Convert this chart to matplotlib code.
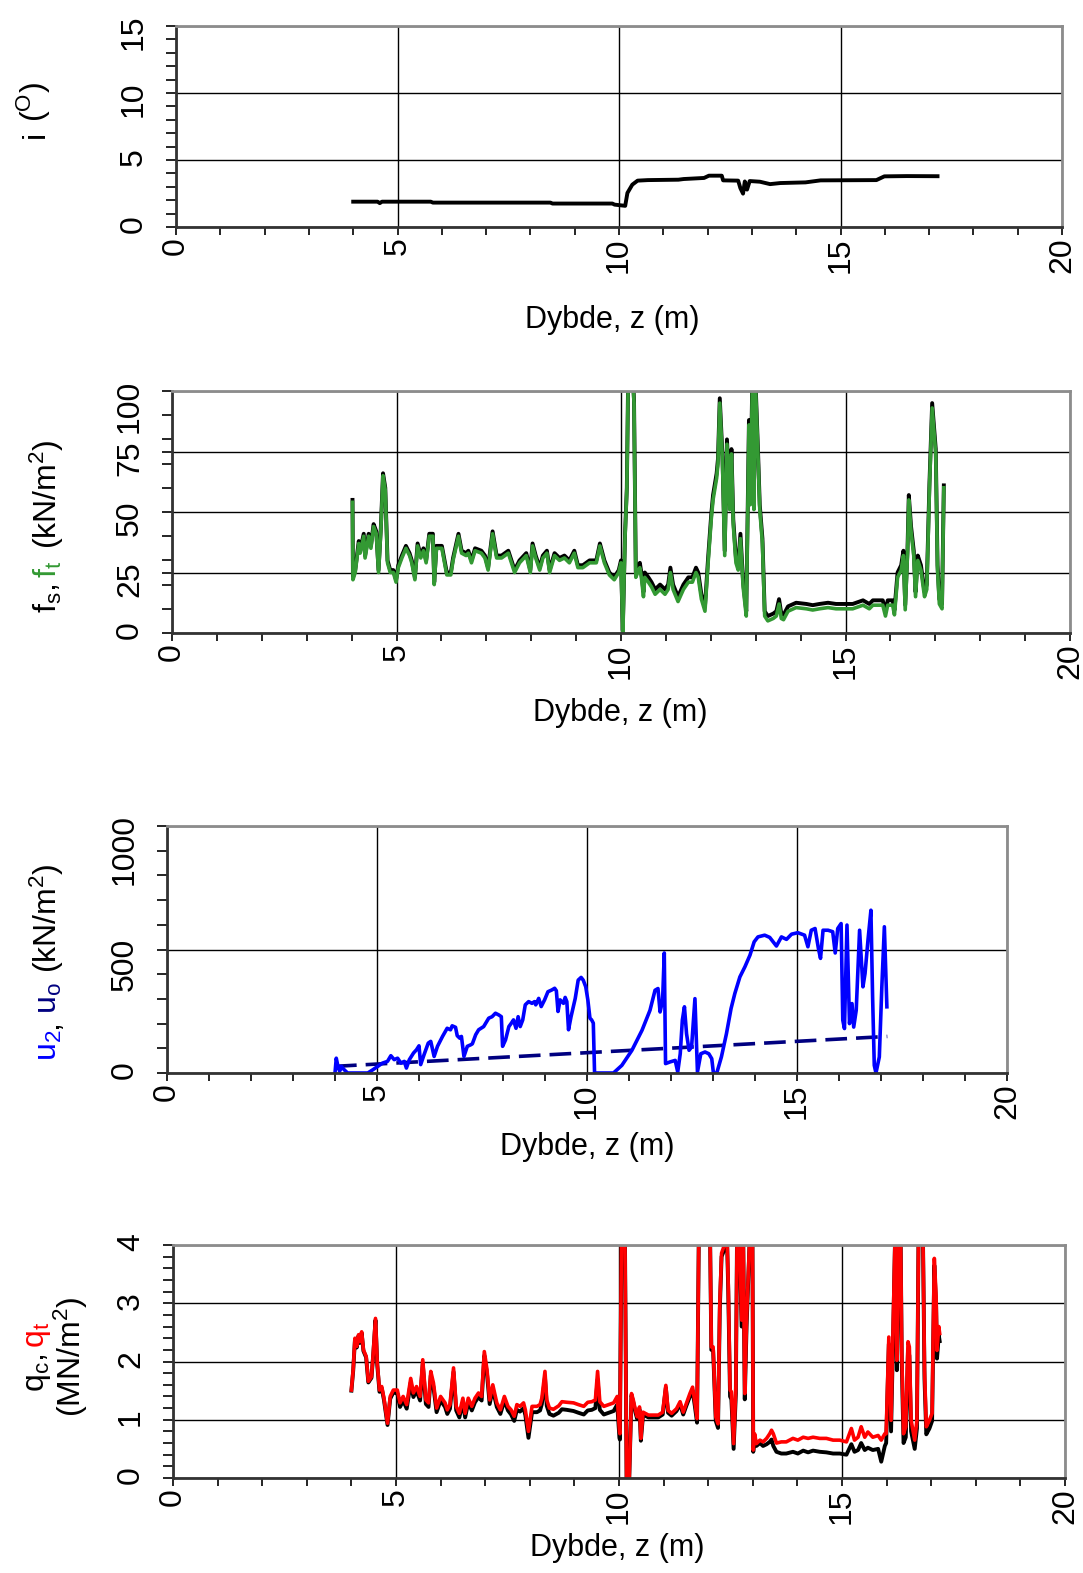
import matplotlib
matplotlib.use("Agg")
import matplotlib.pyplot as plt
from matplotlib.ticker import MultipleLocator
from matplotlib.transforms import IdentityTransform

plt.rcParams['font.family'] = ['Liberation Sans', 'DejaVu Sans']
plt.rcParams['mathtext.fontset'] = 'custom'
plt.rcParams['mathtext.rm'] = 'Liberation Sans'
plt.rcParams['mathtext.it'] = 'Liberation Sans:italic'
plt.rcParams['mathtext.bf'] = 'Liberation Sans:bold'
plt.rcParams['mathtext.default'] = 'regular'

#-----------------------------
# DATA
#-----------------------------
# inclination i (deg)
z_i = [4.00, 4.55, 4.60, 4.65, 5.75, 5.80, 8.45, 8.50, 9.85, 9.90,
       10.14, 10.19, 10.30, 10.42, 10.65, 11.34, 11.46, 11.92, 12.03, 12.32,
       12.35, 12.69, 12.74, 12.80, 12.84, 12.89, 12.95, 13.18, 13.41, 13.64,
       14.21, 14.55, 15.81, 15.99, 16.50, 17.19]
incl = [1.89, 1.89, 1.78, 1.89, 1.89, 1.82, 1.82, 1.75, 1.75, 1.67,
        1.58, 2.54, 3.16, 3.46, 3.50, 3.53, 3.58, 3.66, 3.83, 3.83,
        3.48, 3.46, 2.90, 2.49, 3.40, 2.79, 3.43, 3.38, 3.20, 3.28,
        3.33, 3.48, 3.50, 3.78, 3.80, 3.79]

# sleeve friction fs (black) and ft (green), kN/m2
z_f = [4.02, 4.03, 4.08, 4.16, 4.19, 4.27, 4.30, 4.38, 4.43, 4.49,
       4.55, 4.60, 4.65, 4.70, 4.75, 4.80, 4.86, 4.93, 4.99, 5.04,
       5.12, 5.21, 5.29, 5.34, 5.41, 5.47, 5.54, 5.60, 5.66, 5.73,
       5.81, 5.84, 5.89, 6.01, 6.12, 6.21, 6.26, 6.38, 6.45, 6.55,
       6.60, 6.67, 6.75, 6.89, 6.97, 7.04, 7.14, 7.23, 7.34, 7.49,
       7.63, 7.74, 7.89, 7.98, 8.03, 8.10, 8.19, 8.26, 8.35, 8.41,
       8.52, 8.63, 8.74, 8.85, 8.96, 9.04, 9.15, 9.30, 9.45, 9.53,
       9.63, 9.74, 9.85, 9.95, 10.00, 10.04, 10.09, 10.13, 10.16, 10.24,
       10.29, 10.31, 10.33, 10.39, 10.42, 10.46, 10.50, 10.53, 10.61, 10.68,
       10.76, 10.87, 10.98, 11.05, 11.10, 11.16, 11.27, 11.39, 11.50, 11.59,
       11.67, 11.72, 11.79, 11.87, 11.94, 12.01, 12.05, 12.13, 12.16, 12.20,
       12.26, 12.31, 12.36, 12.42, 12.46, 12.50, 12.56, 12.61, 12.66, 12.72,
       12.79, 12.85, 12.88, 12.93, 12.96, 12.99, 13.05, 13.09, 13.15, 13.20,
       13.27, 13.39, 13.46, 13.52, 13.57, 13.62, 13.72, 13.90, 14.13, 14.27,
       14.42, 14.61, 14.79, 15.00, 15.16, 15.39, 15.53, 15.61, 15.83, 15.89,
       15.94, 16.05, 16.09, 16.16, 16.24, 16.29, 16.33, 16.38, 16.41, 16.46,
       16.52, 16.56, 16.61, 16.68, 16.76, 16.81, 16.87, 16.93, 17.01, 17.05,
       17.09, 17.15, 17.19]
ft = [54, 22, 25, 37, 33, 40, 31, 40, 35, 44,
      41, 25, 42, 65, 59, 29, 25, 25, 21, 27,
      31, 35, 32, 29, 22, 36, 31, 34, 29, 40,
      40, 20, 35, 35, 24, 24, 30, 40, 33, 32,
      33, 29, 34, 33, 31, 26, 41, 31, 31, 33,
      25, 29, 32, 25, 36, 31, 26, 31, 33, 25,
      32, 30, 31, 29, 33, 27, 27, 29, 29, 36,
      29, 24, 22, 25, 29, 0, 40, 59, 105, 115,
      95, 60, 23, 26, 27, 22, 15, 23, 21, 19,
      16, 18, 16, 18, 25, 18, 13, 18, 21, 21,
      25, 23, 14, 9, 29, 47, 55, 64, 70, 95,
      71, 32, 78, 51, 74, 45, 29, 26, 39, 19,
      7, 86, 53, 108, 51, 105, 74, 51, 37, 7,
      5, 6, 7, 12, 6, 5.5, 9, 10.5, 10, 9.5,
      10, 10.5, 10, 10, 10, 11.5, 10, 11.5, 11.5, 7,
      11.5, 11.5, 7.5, 23, 26, 32, 9.6, 32, 55, 42,
      32, 15, 30, 26, 15, 18, 60, 93, 74, 26,
      12, 10, 60]
fs = [55, 23, 26, 38, 34, 41, 32, 41, 36, 45,
      42, 26, 43, 66, 60, 30, 26, 26, 22, 28,
      32, 36, 33, 30, 23, 37, 32, 35, 30, 41,
      41, 21, 36, 36, 25, 25, 31, 41, 34, 33,
      34, 30, 35, 34, 32, 27, 42, 32, 32, 34,
      26, 30, 33, 26, 37, 32, 27, 32, 34, 26,
      33, 31, 32, 30, 34, 28, 28, 30, 30, 37,
      30, 25, 23, 26, 30, 1, 41, 60, 106, 116,
      96, 61, 25, 28, 29, 24, 17, 25, 23, 21,
      18, 20, 18, 20, 27, 20, 15, 20, 23, 23,
      27, 25, 16, 11, 31, 49, 57, 66, 72, 97,
      73, 34, 80, 53, 76, 47, 31, 28, 41, 21,
      9, 88, 55, 110, 53, 107, 76, 53, 39, 9,
      7, 8, 9, 14, 8, 7.5, 11, 12.5, 12, 11.5,
      12, 12.5, 12, 12, 12, 13.5, 12, 13.5, 13.5, 9,
      13.5, 13.5, 9.5, 25, 28, 34, 11.6, 34, 57, 44,
      34, 17, 32, 28, 17, 20, 62, 95, 76, 28,
      14, 12, 61]

# pore pressure u2 (blue) and hydrostatic u0 (navy dashed), kN/m2
z_u = [4.00, 4.03, 4.07, 4.11, 4.15, 4.22, 4.30, 4.42, 4.78, 4.90,
       5.02, 5.13, 5.25, 5.33, 5.41, 5.49, 5.57, 5.65, 5.70, 5.77,
       5.87, 5.94, 6.00, 6.04, 6.12, 6.22, 6.28, 6.36, 6.44, 6.56,
       6.67, 6.75, 6.79, 6.87, 6.91, 6.97, 7.01, 7.07, 7.15, 7.23,
       7.27, 7.35, 7.42, 7.54, 7.66, 7.74, 7.82, 7.90, 7.96, 7.99,
       8.06, 8.14, 8.20, 8.25, 8.31, 8.36, 8.41, 8.47, 8.53, 8.61,
       8.69, 8.75, 8.78, 8.85, 8.91, 8.99, 9.07, 9.16, 9.23, 9.27,
       9.31, 9.36, 9.44, 9.48, 9.52, 9.56, 9.62, 9.72, 9.79, 9.86,
       9.91, 9.97, 10.02, 10.07, 10.11, 10.15, 10.18, 10.63, 10.83, 11.07,
       11.31, 11.50, 11.62, 11.69, 11.74, 11.80, 11.84, 11.87, 11.98, 12.10,
       12.16, 12.22, 12.27, 12.32, 12.37, 12.43, 12.49, 12.57, 12.63, 12.71,
       12.81, 12.90, 12.97, 13.01, 13.09, 13.20, 13.32, 13.43, 13.52, 13.64,
       13.76, 13.88, 13.98, 14.07, 14.23, 14.35, 14.51, 14.63, 14.75, 14.87,
       15.02, 15.18, 15.26, 15.34, 15.43, 15.51, 15.56, 15.62, 15.74, 15.85,
       15.91, 15.97, 16.05, 16.09, 16.13, 16.19, 16.25, 16.31, 16.35, 16.41,
       16.49, 16.57, 16.62, 16.69, 16.76, 16.80, 16.84, 16.88, 16.96, 17.02,
       17.08, 17.14]
u2 = [0, 60, 27, 7, 27, 13, 0, 0, 0, 13,
      27, 40, 47, 70, 54, 60, 40, 47, 20, 54,
      81, 94, 110, 34, 74, 121, 128, 67, 108, 148,
      181, 175, 191, 185, 151, 141, 148, 67, 108, 114,
      118, 155, 175, 188, 222, 228, 242, 235, 228, 108,
      134, 188, 202, 215, 181, 228, 188, 215, 276, 289,
      282, 289, 276, 302, 269, 296, 329, 336, 343, 333,
      249, 296, 282, 306, 289, 175, 228, 302, 376, 387,
      376, 349, 296, 222, 215, 202, 0, 0, 31, 92,
      173, 254, 335, 342, 247, 295, 486, 38, 45, 51,
      4, 78, 214, 268, 159, 92, 105, 301, 4, 78,
      85, 78, 58, 0, 0, 65, 159, 261, 322, 389,
      430, 477, 531, 551, 558, 549, 514, 551, 541, 562,
      568, 558, 511, 578, 585, 504, 464, 578, 578, 572,
      486, 585, 605, 214, 180, 599, 200, 281, 186, 254,
      578, 349, 403, 538, 659, 308, 31, 0, 65, 349,
      592, 268]
z_u0 = [4.0, 17.15]
u0 = [27, 148]

# cone resistance qc (black) and qt (red), MN/m2
z_q = [4.00, 4.04, 4.08, 4.12, 4.16, 4.19, 4.23, 4.27, 4.33, 4.38,
       4.45, 4.49, 4.54, 4.58, 4.63, 4.68, 4.73, 4.81, 4.87, 4.94,
       5.03, 5.09, 5.16, 5.24, 5.33, 5.39, 5.46, 5.54, 5.60, 5.67,
       5.73, 5.78, 5.84, 5.91, 6.00, 6.10, 6.15, 6.21, 6.29, 6.35,
       6.42, 6.50, 6.55, 6.62, 6.70, 6.77, 6.85, 6.92, 6.98, 7.04,
       7.10, 7.17, 7.26, 7.34, 7.43, 7.51, 7.58, 7.65, 7.71, 7.78,
       7.86, 7.90, 7.97, 8.05, 8.16, 8.23, 8.27, 8.34, 8.38, 8.44,
       8.53, 8.65, 8.72, 8.83, 8.98, 9.09, 9.21, 9.30, 9.39, 9.47,
       9.52, 9.57, 9.66, 9.77, 9.88, 9.96, 10.01, 10.02, 10.06, 10.13,
       10.17, 10.23, 10.28, 10.32, 10.37, 10.41, 10.46, 10.49, 10.54, 10.66,
       10.77, 10.88, 10.98, 11.05, 11.10, 11.18, 11.29, 11.37, 11.44, 11.51,
       11.59, 11.65, 11.70, 11.75, 11.80, 11.85, 12.03, 12.07, 12.11, 12.17,
       12.22, 12.26, 12.30, 12.35, 12.41, 12.45, 12.49, 12.52, 12.57, 12.62,
       12.65, 12.69, 12.75, 12.78, 12.82, 12.86, 12.95, 12.99, 13.01, 13.04,
       13.08, 13.16, 13.23, 13.31, 13.38, 13.42, 13.46, 13.53, 13.64, 13.75,
       13.90, 14.01, 14.13, 14.24, 14.35, 14.50, 14.65, 14.80, 14.95, 15.10,
       15.21, 15.28, 15.36, 15.43, 15.51, 15.58, 15.69, 15.81, 15.88, 15.96,
       15.99, 16.05, 16.10, 16.16, 16.20, 16.23, 16.28, 16.31, 16.34, 16.38,
       16.43, 16.48, 16.51, 16.55, 16.63, 16.68, 16.72, 16.78, 16.81, 16.85,
       16.89, 16.96, 17.02, 17.07, 17.11, 17.13, 17.17, 17.19]
qt = [1.51, 1.86, 2.40, 2.26, 2.46, 2.34, 2.51, 2.20, 2.09, 1.66,
      1.74, 2.14, 2.74, 1.97, 1.51, 1.57, 1.37, 0.94, 1.40, 1.51,
      1.51, 1.29, 1.40, 1.26, 1.71, 1.46, 1.57, 1.40, 2.03, 1.34,
      1.29, 1.83, 1.63, 1.20, 1.40, 1.29, 1.17, 1.26, 1.89, 1.23,
      1.11, 1.37, 1.11, 1.37, 1.23, 1.37, 1.46, 1.40, 2.17, 1.86,
      1.34, 1.60, 1.29, 1.17, 1.40, 1.23, 1.17, 1.06, 1.26, 1.23,
      1.29, 1.17, 0.80, 1.23, 1.23, 1.26, 1.37, 1.83, 1.34, 1.20,
      1.18, 1.24, 1.31, 1.30, 1.29, 1.26, 1.23, 1.30, 1.31, 1.34,
      1.83, 1.31, 1.23, 1.26, 1.29, 1.40, 0.80, 0.76, 4.5, 4.5,
      0.0, 0.0, 1.45, 1.34, 1.16, 1.05, 1.22, 0.68, 1.13, 1.08,
      1.08, 1.08, 1.13, 1.59, 1.16, 1.11, 1.19, 1.31, 1.13, 1.28,
      1.45, 1.56, 1.31, 1.02, 5.0, 5.0, 5.0, 2.25, 2.25, 1.05,
      0.93, 3.00, 3.86, 3.97, 4.5, 3.30, 1.51, 1.48, 0.59, 1.56,
      4.5, 4.5, 2.71, 4.5, 1.45, 2.71, 4.5, 4.5, 0.48, 0.76,
      0.59, 0.65, 0.62, 0.68, 0.76, 0.82, 0.76, 0.60, 0.62, 0.62,
      0.68, 0.65, 0.70, 0.68, 0.70, 0.68, 0.68, 0.65, 0.65, 0.62,
      0.85, 0.65, 0.70, 0.88, 0.70, 0.79, 0.70, 0.73, 0.65, 0.76,
      0.76, 2.42, 0.99, 3.11, 4.5, 2.02, 4.5, 4.5, 2.14, 0.76,
      0.88, 2.34, 2.25, 0.99, 0.65, 0.99, 4.5, 4.5, 4.5, 1.85,
      0.88, 0.99, 1.11, 3.77, 3.11, 2.19, 2.60, 2.48]
qc = [1.50, 1.84, 2.38, 2.24, 2.44, 2.32, 2.49, 2.18, 2.07, 1.64,
      1.72, 2.12, 2.71, 1.94, 1.48, 1.54, 1.34, 0.91, 1.36, 1.47,
      1.45, 1.22, 1.33, 1.19, 1.64, 1.39, 1.50, 1.33, 1.96, 1.27,
      1.22, 1.76, 1.56, 1.13, 1.33, 1.22, 1.10, 1.19, 1.82, 1.16,
      1.04, 1.30, 1.04, 1.30, 1.16, 1.30, 1.39, 1.33, 2.10, 1.79,
      1.27, 1.53, 1.22, 1.10, 1.33, 1.16, 1.09, 0.98, 1.17, 1.14,
      1.20, 1.08, 0.69, 1.13, 1.13, 1.16, 1.27, 1.73, 1.24, 1.10,
      1.07, 1.12, 1.18, 1.17, 1.15, 1.12, 1.09, 1.16, 1.17, 1.20,
      1.69, 1.17, 1.09, 1.12, 1.15, 1.26, 0.69, 0.66, 4.5, 4.5,
      0.0, 0.0, 1.42, 1.30, 1.12, 1.01, 1.18, 0.64, 1.09, 1.04,
      1.04, 1.04, 1.09, 1.55, 1.12, 1.07, 1.15, 1.27, 1.09, 1.24,
      1.40, 1.50, 1.24, 0.95, 5.0, 5.0, 5.0, 2.20, 2.20, 0.98,
      0.86, 2.90, 3.80, 3.90, 4.5, 3.20, 1.40, 1.35, 0.50, 1.45,
      4.5, 4.5, 2.60, 4.5, 1.35, 2.60, 4.5, 4.5, 0.45, 0.70,
      0.55, 0.60, 0.55, 0.58, 0.62, 0.66, 0.55, 0.45, 0.42, 0.42,
      0.45, 0.42, 0.47, 0.44, 0.47, 0.45, 0.44, 0.42, 0.42, 0.40,
      0.58, 0.45, 0.48, 0.60, 0.48, 0.52, 0.48, 0.50, 0.28, 0.55,
      0.60, 2.30, 0.80, 2.95, 4.5, 1.85, 4.5, 4.5, 2.00, 0.60,
      0.70, 2.20, 2.10, 0.80, 0.50, 0.85, 4.5, 4.5, 4.5, 1.70,
      0.75, 0.85, 0.98, 3.65, 2.95, 2.05, 2.45, 2.35]

GREEN = '#339933'
RED = '#ff0000'
BLUE = '#0000ff'
NAVY = '#000080'

W, H = 1083, 1573
fig = plt.figure(figsize=(W / 100, H / 100), dpi=100)


def px_axes(left, top, right, bottom):
    # axes placed by pixel box (image coords, origin top-left)
    return fig.add_axes([left / W, 1 - bottom / H, (right - left) / W, (bottom - top) / H])


def style(ax, ymax, ymajor, yminor):
    ax.set_xlim(0, 20)
    ax.set_ylim(0, ymax)
    ax.xaxis.set_major_locator(MultipleLocator(5))
    ax.xaxis.set_minor_locator(MultipleLocator(1))
    ax.yaxis.set_major_locator(MultipleLocator(ymajor))
    ax.yaxis.set_minor_locator(MultipleLocator(yminor))
    ax.grid(True, which='major', color='black', lw=1.0)
    ax.tick_params(which='both', direction='out', color='black', width=1.2,
                   labelsize=23, labelcolor='black')
    ax.tick_params(axis='x', which='both', length=6, pad=1.5, labelrotation=90)
    ax.tick_params(axis='y', which='both', length=7.5, pad=12, labelrotation=90)
    for s in ('top', 'right'):
        ax.spines[s].set_color('#8c8c8c')
        ax.spines[s].set_linewidth(2.0)
    for s in ('left', 'bottom'):
        ax.spines[s].set_color('#333333')
        ax.spines[s].set_linewidth(2.0)


def xlabel(xc, yc):
    fig.text(xc / W, 1 - yc / H, "Dybde, z (m)", fontsize=22,
             ha='center', va='center')


def vlabel(x_base, yc, parts):
    # rotated y-label built from coloured pieces, baseline at x_base (px)
    r = fig.canvas.get_renderer()
    items = []
    for s, c, gap in parts:
        t = fig.text(0, 0, s, color=c, fontsize=23, rotation=90,
                     rotation_mode='anchor', ha='left', va='baseline',
                     transform=IdentityTransform())
        items.append((t, t.get_window_extent(r).height, gap))
    total = sum(L + g for _, L, g in items)
    y = (H - yc) - total / 2
    for t, L, g in items:
        t.set_position((x_base, y))
        y += L + g


#----- INCLINATION -------------
ax1 = px_axes(176, 26, 1062, 227)
ax1.plot(z_i, incl, color='black', lw=2.8)
style(ax1, 15, 5, 1)
xlabel(612, 320)
vlabel(44, 110, [("i", 'black', 8), ("($^{O}$)", 'black', 0)])

#----- SLEEVE FRICTION -------------
ax2 = px_axes(172, 391, 1070, 633)
ax2.plot(z_f, fs, color='black', lw=2.8)
ax2.plot(z_f, ft, color=GREEN, lw=2.6)
style(ax2, 100, 25, 10)
xlabel(620, 713)
vlabel(57, 526, [("f$_s$,", 'black', 6), ("f$_t$", GREEN, 12),
                 ("(kN/m$^2$)", 'black', 0)])

#----- PORE PRESSURE -------------
ax3 = px_axes(167, 826, 1007, 1073)
ax3.plot(z_u0, u0, color=NAVY, lw=2.6, dashes=(6, 2.5))
ax3.plot(z_u, u2, color=BLUE, lw=2.6)
style(ax3, 1000, 500, 100)
xlabel(587, 1147)
vlabel(57, 962, [("u$_2$", BLUE, 0), (",", 'black', 6), ("u$_o$", NAVY, 10),
                 ("(kN/m$^2$)", 'black', 0)])

#----- CONE RESISTANCE -------------
ax4 = px_axes(173, 1245, 1065, 1478)
ax4.plot(z_q, qc, color='black', lw=2.8)
ax4.plot(z_q, qt, color=RED, lw=2.6)
style(ax4, 4, 1, 0.2)
xlabel(617, 1548)
vlabel(44, 1357, [("q$_c$,", 'black', 6), ("q$_t$", RED, 0)])
vlabel(81, 1357, [("(MN/m$^2$)", 'black', 0)])

plt.savefig("out.png", dpi=100)
plt.close()
print("saved: out.png")
